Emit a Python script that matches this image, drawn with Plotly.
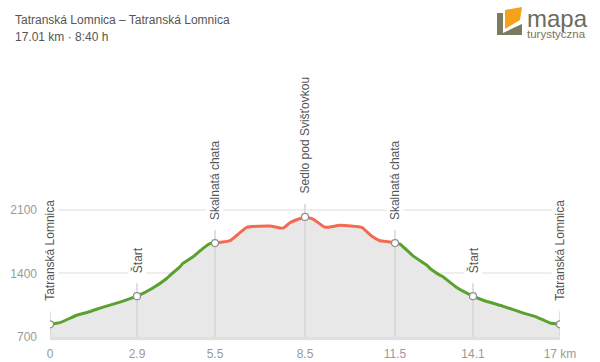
import plotly.graph_objects as go

# ---- data ----
km = [0, 0.33, 0.89, 1.28, 1.77, 2.33, 2.9, 3.4, 3.89, 4.0, 4.33, 4.43, 4.77, 5.1, 5.33, 5.5,
      6.0, 6.56, 7.33, 7.77, 8.0, 8.5, 8.78, 9.17, 9.67, 10.39, 10.72, 11.0, 11.28, 11.5,
      11.67, 12.11, 12.56, 12.67, 13.0, 13.11, 13.56, 14.1, 14.44, 15.11, 15.78, 16.22, 16.67, 17.0]
elev = [840, 858, 940, 975, 1030, 1085, 1150, 1235, 1345, 1380, 1473, 1511, 1584, 1677, 1730, 1735,
        1762, 1909, 1923, 1900, 1960, 2023, 1997, 1909, 1931, 1909, 1813, 1761, 1750, 1735,
        1724, 1591, 1492, 1455, 1381, 1362, 1245, 1150, 1105, 1038, 964, 920, 854, 840]
red_start, red_end = 5.5, 11.6

poi_km = [0, 2.9, 5.5, 8.5, 11.5, 14.1, 17]
poi_elev = [840, 1150, 1735, 2023, 1735, 1150, 840]
poi_name = ["Tatranská Lomnica", "Štart", "Skalnatá chata", "Sedlo pod Svišťovkou",
            "Skalnatá chata", "Štart", "Tatranská Lomnica"]

x_ticks = [0, 2.9, 5.5, 8.5, 11.5, 14.1, 17]
x_ticktext = ["0", "2.9", "5.5", "8.5", "11.5", "14.1", "17 km"]
y_ticks = [700, 1400, 2100]

title = "Tatranská Lomnica – Tatranská Lomnica"
subtitle = "17.01 km · 8:40 h"

# ---- layout constants ----
Y0, Y1 = 700, 3753
T, B = 60, 25
H = 362
PX = (Y1 - Y0) / (H - T - B)   # data units per pixel

GREEN = "#5ba12f"
RED = "#f26b50"

fig = go.Figure()

# fill
fig.add_trace(go.Scatter(x=km, y=elev, mode="lines", line=dict(width=0, color="#e8e8e8"),
                         fill="tozeroy", fillcolor="#e8e8e8", hoverinfo="skip", showlegend=False))

# vertical POI lines
for xk, e in zip(poi_km, poi_elev):
    fig.add_trace(go.Scatter(x=[xk, xk], y=[Y0, e + 13 * PX], mode="lines",
                             line=dict(color="#d6d6d6", width=1.5), hoverinfo="skip", showlegend=False))

# profile segments (interpolate the split points from the data)
def interp(xq):
    for i in range(len(km) - 1):
        if km[i] <= xq <= km[i + 1]:
            t = (xq - km[i]) / (km[i + 1] - km[i]) if km[i + 1] != km[i] else 0
            return elev[i] + t * (elev[i + 1] - elev[i])
    return elev[-1]

def segment(a, b):
    xs = [a] + [k for k in km if a < k < b] + [b]
    ys = [interp(a)] + [e for k, e in zip(km, elev) if a < k < b] + [interp(b)]
    return xs, ys

for (a, b), col in [((0, red_start), GREEN), ((red_start, red_end), RED), ((red_end, 17), GREEN)]:
    xs, ys = segment(a, b)
    fig.add_trace(go.Scatter(x=xs, y=ys, mode="lines", line=dict(color=col, width=3, shape="spline", smoothing=0.4),
                             hoverinfo="skip", showlegend=False))

# POI markers
fig.add_trace(go.Scatter(x=poi_km, y=poi_elev, mode="markers",
                         marker=dict(size=7, color="white", line=dict(color="#8f8f8f", width=1.2)),
                         hoverinfo="skip", showlegend=False))

annotations = []
for xk, e, name in zip(poi_km, poi_elev, poi_name):
    annotations.append(dict(x=xk, y=e, xref="x", yref="y", text=name, textangle=-90,
                            showarrow=False, yanchor="bottom", xanchor="center", yshift=21,
                            font=dict(family="Liberation Sans", size=12, color="#555555"),
                            bgcolor="white", borderpad=1))

annotations.append(dict(x=0, y=1, xref="paper", yref="paper", text=title, showarrow=False,
                        xanchor="left", yanchor="middle", xshift=-37, yshift=40,
                        font=dict(family="Liberation Sans", size=12, color="#555555")))
annotations.append(dict(x=0, y=1, xref="paper", yref="paper", text=subtitle, showarrow=False,
                        xanchor="left", yanchor="middle", xshift=-37, yshift=23,
                        font=dict(family="Liberation Sans", size=12, color="#555555")))
# logo text
annotations.append(dict(x=1, y=1, xref="paper", yref="paper", text="mapa", showarrow=False,
                        xanchor="left", yanchor="middle", xshift=-35, yshift=42,
                        font=dict(family="Liberation Sans", size=24, color="#6c6b5c")))
annotations.append(dict(x=1, y=1, xref="paper", yref="paper", text="turystyczna", showarrow=False,
                        xanchor="left", yanchor="middle", xshift=-35, yshift=26,
                        font=dict(family="Liberation Sans", size=11.5, color="#7d7358")))

# logo icon shapes (paper-pixel approximations)
def px_to_paper(x, y):
    return (x - 50) / 510, 1 - (y - T) / (H - T - B)

def path(pts):
    s = ""
    for i, (x, y) in enumerate(pts):
        px, py = px_to_paper(x, y)
        s += ("M" if i == 0 else "L") + f"{px},{py} "
    return s + "Z"

shapes = [
    dict(type="path", xref="paper", yref="paper", path=path([(497, 13), (522, 13), (522, 35), (497, 35)]),
         fillcolor="#7b7a63", line=dict(width=0)),
    dict(type="path", xref="paper", yref="paper", path=path([(503, 9), (524, 5), (524, 23), (503, 33)]),
         fillcolor="white", line=dict(width=0)),
    dict(type="path", xref="paper", yref="paper", path=path([(505, 10), (522, 7), (520, 20), (505, 29)]),
         fillcolor="#f5a21b", line=dict(width=0)),
]

fig.update_layout(
    width=600, height=362,
    margin=dict(l=50, r=40, t=T, b=B, autoexpand=False),
    paper_bgcolor="white", plot_bgcolor="white",
    showlegend=False,
    annotations=annotations,
    shapes=shapes,
    xaxis=dict(range=[0, 17], tickvals=x_ticks, ticktext=x_ticktext, showgrid=False, zeroline=False,
               showline=True, linecolor="#e0e0e0", linewidth=3, ticks="", ticklabelstandoff=4,
               automargin=False,
               tickfont=dict(family="Liberation Sans", size=12, color="#9a9a9a")),
    yaxis=dict(range=[Y0, Y1], tickvals=y_ticks, showgrid=True, gridcolor="#eeeeee", gridwidth=1.5,
               zeroline=False, showline=False, ticks="", ticklabelstandoff=12, automargin=False,
               tickfont=dict(family="Liberation Sans", size=12, color="#9a9a9a")),
)

fig.write_html("out.html", config={"displayModeBar": False},
               post_script="document.body.style.margin='0';document.body.style.padding='0';")
